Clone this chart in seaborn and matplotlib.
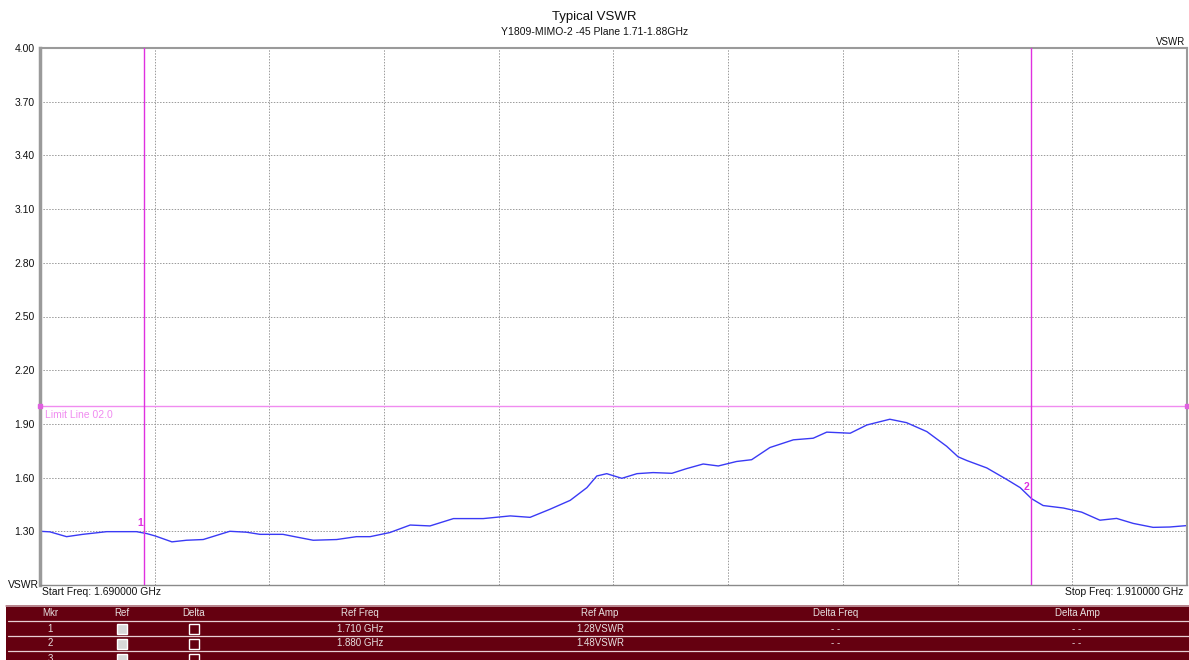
import numpy as np
import matplotlib
matplotlib.use("Agg")
import matplotlib.pyplot as plt
from matplotlib.patches import Rectangle
import seaborn as sns

# Measured trace (GHz, VSWR)
freq_ghz = [1.6900, 1.6919, 1.6951, 1.6982, 1.7028, 1.7085, 1.7105, 1.7121, 1.7153,
            1.7181, 1.7213, 1.7264, 1.7296, 1.7322, 1.7366, 1.7392, 1.7424, 1.7469,
            1.7507, 1.7533, 1.7571, 1.7610, 1.7648, 1.7693, 1.7750, 1.7802, 1.7840,
            1.7878, 1.7917, 1.7949, 1.7968, 1.7987, 1.8016, 1.8045, 1.8076, 1.8112,
            1.8140, 1.8172, 1.8201, 1.8236, 1.8265, 1.8300, 1.8345, 1.8383, 1.8409,
            1.8454, 1.8486, 1.8530, 1.8562, 1.8601, 1.8639, 1.8661, 1.8678, 1.8716,
            1.8754, 1.8780, 1.8802, 1.8824, 1.8863, 1.8898, 1.8933, 1.8965, 1.8997,
            1.9035, 1.9067, 1.9100]
vswr = [1.300, 1.297, 1.270, 1.283, 1.298, 1.298, 1.287, 1.274, 1.241,
        1.250, 1.254, 1.300, 1.295, 1.283, 1.283, 1.268, 1.250, 1.254,
        1.270, 1.270, 1.293, 1.335, 1.330, 1.371, 1.371, 1.386, 1.378,
        1.423, 1.473, 1.544, 1.609, 1.622, 1.596, 1.622, 1.628, 1.624,
        1.650, 1.676, 1.665, 1.690, 1.700, 1.768, 1.811, 1.820, 1.854,
        1.848, 1.894, 1.926, 1.907, 1.857, 1.775, 1.716, 1.695, 1.654,
        1.590, 1.544, 1.482, 1.444, 1.430, 1.407, 1.362, 1.372, 1.344,
        1.322, 1.324, 1.332]

start_freq = 1.69
stop_freq = 1.91
y_min, y_max = 1.0, 4.0
y_ticks = [1.30, 1.60, 1.90, 2.20, 2.50, 2.80, 3.10, 3.40, 3.70, 4.00]
limit_value = 2.0

marker_ids = ["1", "2", "3"]
marker_freq = [1.710, 1.880]
marker_amp = [1.28, 1.48]
ref_freq_text = ["1.710 GHz", "1.880 GHz", ""]
ref_amp_text = ["1.28VSWR", "1.48VSWR", ""]
delta_text = ["- -", "- -", ""]
table_headers = ["Mkr", "Ref", "Delta", "Ref Freq", "Ref Amp", "Delta Freq", "Delta Amp"]

sns.set_style("white")
plt.rcParams['font.family'] = ['Liberation Sans', 'DejaVu Sans']

W, H = 1189, 660
fig = plt.figure(figsize=(W / 100, H / 100), dpi=100)

def fx(px):
    return px / W

def fy(py):
    return 1 - py / H

ax = fig.add_axes([fx(40), fy(585), fx(1187) - fx(40), fy(48) - fy(585)])

sns.lineplot(x=freq_ghz, y=vswr, ax=ax, color='#3a3af5', linewidth=1.0,
             estimator=None, sort=False)

ax.set_xlim(start_freq, stop_freq)
ax.set_ylim(y_min, y_max)
ax.set_xticks(np.linspace(start_freq, stop_freq, 11))
ax.set_xticklabels([])
ax.set_yticks(y_ticks)
ax.set_yticklabels([f"{t:.2f}" for t in y_ticks], fontsize=7.5, color='#111111')
ax.tick_params(axis='both', length=0, pad=4)
ax.grid(True, linestyle=(0, (1.5, 1.5)), color='#9a9a9a', linewidth=0.7)
ax.set_xlabel('')
ax.set_ylabel('')

for side, lw, col in [('left', 2.5, '#9a9a9a'), ('top', 1.5, '#9a9a9a'),
                      ('right', 1.5, '#9a9a9a'), ('bottom', 1.0, '#8a8a8a')]:
    ax.spines[side].set_linewidth(lw)
    ax.spines[side].set_color(col)

# limit line
ax.axhline(limit_value, color='#f08cf0', linewidth=1.0, zorder=3)
ax.plot([start_freq, stop_freq], [limit_value, limit_value], 's', color='#e060e0',
        markersize=2.5, clip_on=False, zorder=4)
ax.text(start_freq + 0.001, limit_value - 0.02, 'Limit Line 02.0', color='#f08cf0',
        fontsize=7.5, ha='left', va='top')

# markers
for mid, mf, ma in zip(marker_ids, marker_freq, marker_amp):
    ax.axvline(mf, color='#e030e0', linewidth=1.0, zorder=3)
    ax.text(mf - 0.0008, ma + 0.04, mid, color='#e030e0', fontsize=7.5,
            fontweight='bold', ha='center', va='bottom')

# titles and labels
fig.text(0.5, fy(17), 'Typical VSWR', ha='center', va='center', fontsize=9.5, color='#111111')
fig.text(0.5, fy(32), 'Y1809-MIMO-2 -45 Plane 1.71-1.88GHz', ha='center', va='center',
         fontsize=7.5, color='#111111')
fig.text(fx(1185), fy(42), 'VSWR', ha='right', va='center', fontsize=7, color='#111111')
fig.text(fx(8), fy(585), 'VSWR', ha='left', va='center', fontsize=7.5, color='#111111')
fig.text(fx(42), fy(592), f'Start Freq: {start_freq:.6f} GHz', ha='left', va='center',
         fontsize=7.5, color='#111111')
fig.text(fx(1183), fy(592), f'Stop Freq: {stop_freq:.6f} GHz', ha='right', va='center',
         fontsize=7.5, color='#111111')

# marker table
tax = fig.add_axes([0, 0, 1, 1], zorder=5)
tax.set_xlim(0, W)
tax.set_ylim(H, 0)
tax.axis('off')
tax.patch.set_alpha(0)

bg = '#650010'
tax.add_patch(Rectangle((6, 605), W - 6, H - 605, facecolor=bg, edgecolor='none'))
tax.plot([6, W], [605.5, 605.5], color='#c8a0a8', linewidth=1.2)
row_tops = [606, 621, 636, 651]
for yline in row_tops[1:]:
    tax.plot([8, W], [yline - 0.5, yline - 0.5], color='#e8d0d4', linewidth=0.9)

col_x = [50, 122, 194, 360, 600, 836, 1077]
txt_col = '#e6e0e0'
for cx, hd in zip(col_x, table_headers):
    tax.text(cx, 613.5, hd, ha='center', va='center', fontsize=7, color=txt_col)

for i, mid in enumerate(marker_ids):
    yc = row_tops[i + 1] + 7.5
    tax.text(col_x[0], yc, mid, ha='center', va='center', fontsize=7, color=txt_col)
    tax.add_patch(Rectangle((col_x[1] - 5, yc - 5), 10, 10, facecolor='#d8d8d8',
                            edgecolor='white', linewidth=1.0))
    tax.add_patch(Rectangle((col_x[2] - 5, yc - 5), 10, 10, facecolor=bg,
                            edgecolor='white', linewidth=1.0))
    tax.text(col_x[3], yc, ref_freq_text[i], ha='center', va='center', fontsize=7, color=txt_col)
    tax.text(col_x[4], yc, ref_amp_text[i], ha='center', va='center', fontsize=7, color=txt_col)
    tax.text(col_x[5], yc, delta_text[i], ha='center', va='center', fontsize=7, color=txt_col)
    tax.text(col_x[6], yc, delta_text[i], ha='center', va='center', fontsize=7, color=txt_col)

fig.savefig('out.png', dpi=100)
